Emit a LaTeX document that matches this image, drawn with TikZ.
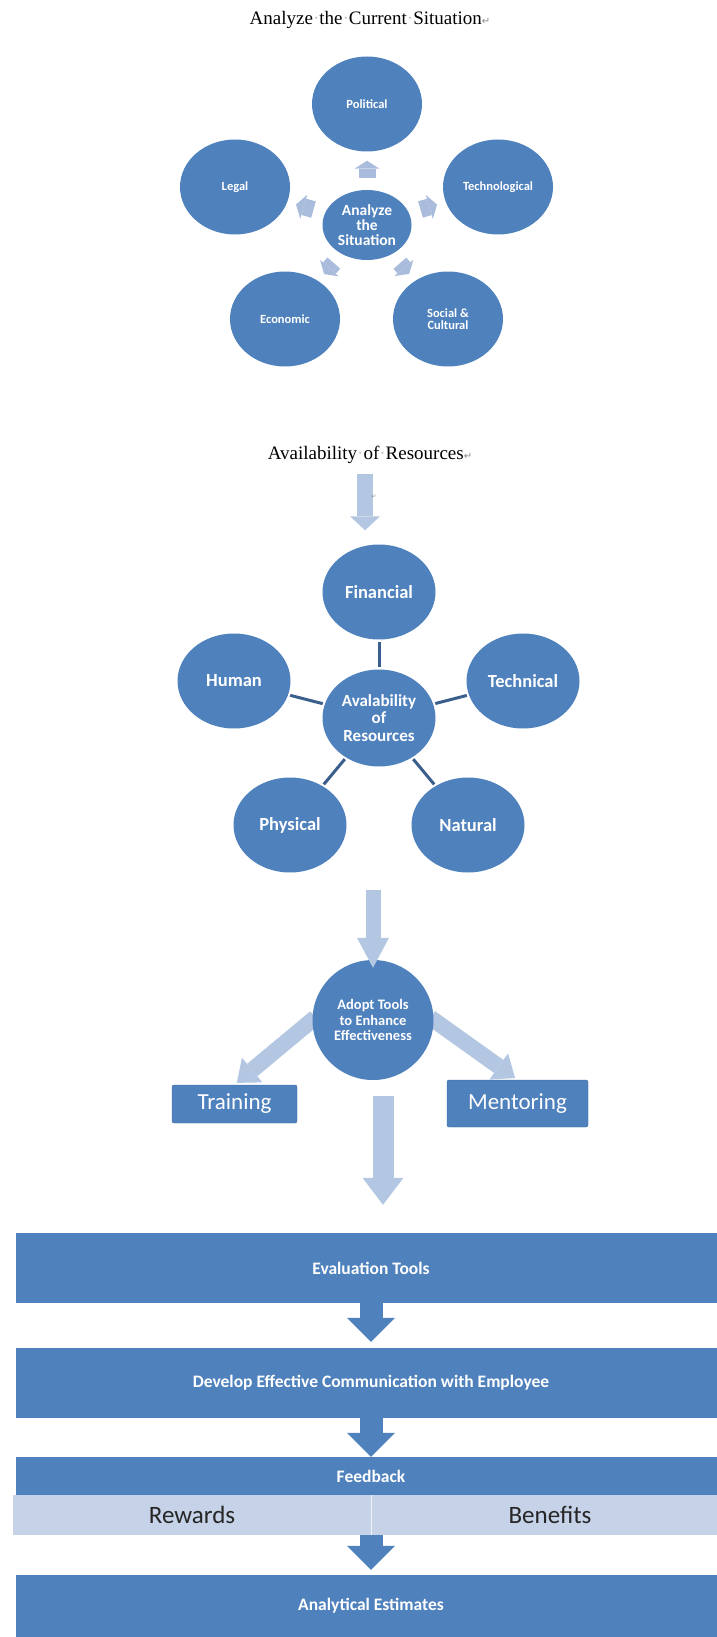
\documentclass[tikz,border=0pt]{standalone}
\usepackage{fontspec}
\setmainfont{Liberation Serif}
\newfontfamily\calfont{Carlito}
\newfontfamily\symfont{DejaVu Sans}
\usetikzlibrary{shapes.geometric,arrows.meta,backgrounds}

\definecolor{circblue}{HTML}{4F81BD}
\definecolor{linkblue}{HTML}{3A5F8D}
\definecolor{paleblue}{HTML}{B3C6E2}
\definecolor{tinyblue}{HTML}{A9BCDB}
\definecolor{barblue}{HTML}{C5D2E7}
\definecolor{markgray}{HTML}{8A8A8A}

\newcommand{\wdot}{\textcolor{markgray!50}{·}}
\newcommand{\pmark}{{\symfont\fontsize{10}{10}\selectfont\textcolor{markgray}{↵}}}

\tikzset{
	heading/.style={inner sep=0pt, font=\fontsize{19}{23}\selectfont},
	bubble/.style={ellipse, fill=circblue, text=white, inner sep=0pt, align=center},
	smallbubble/.style={bubble, minimum width=110pt, minimum height=95pt, font=\calfont\bfseries\fontsize{12.5}{12}\selectfont},
	hub/.style={bubble, minimum width=89pt, minimum height=70pt, font=\calfont\bfseries\fontsize{15.5}{14.7}\selectfont},
	bigbubble/.style={bubble, minimum width=113pt, minimum height=95pt, font=\calfont\bfseries\fontsize{18.5}{20}\selectfont},
	reshub/.style={bubble, minimum width=113pt, minimum height=97pt, font=\calfont\bfseries\fontsize{17}{17.3}\selectfont},
	adoptbubble/.style={bubble, minimum width=121pt, minimum height=120pt, font=\calfont\bfseries\fontsize{14.5}{15.3}\selectfont},
	tag/.style={rectangle, fill=circblue, draw=circblue!80!black, rounded corners=2pt, text=white, inner sep=0pt, font=\calfont\fontsize{23}{26}\selectfont},
	band/.style={rectangle, fill=circblue, text=white, inner sep=0pt, minimum width=710pt, font=\calfont\bfseries\fontsize{17.5}{20}\selectfont},
	bar/.style={rectangle, fill=barblue, text=black!85, inner sep=0pt, minimum height=40pt, font=\calfont\fontsize{25}{28}\selectfont},
	tinyarrow/.style={draw=tinyblue, line width=17pt, -{Triangle[width=25pt,length=8pt,line width=0pt]}, shorten <=12pt, shorten >=9pt},
	link/.style={draw=linkblue, line width=3pt, shorten <=2pt, shorten >=2pt},
	palearrow/.style={draw=paleblue, line width=16pt, -{Triangle[width=32pt,length=20pt,line width=0pt]}},
	bandarrow/.style={draw=circblue, line width=23pt, -{Triangle[width=48pt,length=24pt,line width=0pt]}}
}

\begin{document}
\begin{tikzpicture}[x=1pt,y=-1pt]
	\useasboundingbox (0,0) rectangle (716,1637);

	\node[heading] (sitTitle) at (370,20) {Analyze\wdot the\wdot Current\wdot Situation\pmark};

	\node[hub] (sit) at (367,225) {Analyze\\the\\Situation};
	\node[smallbubble] (political) at (367,104) {Political};
	\node[smallbubble] (legal) at (235,187) {Legal};
	\node[smallbubble] (technological) at (498,187) {Technological};
	\node[smallbubble] (economic) at (285,319) {Economic};
	\node[smallbubble] (social) at (448,319) {Social \&\\Cultural};
	\foreach \n in {political,legal,technological,economic,social}
		\draw[tinyarrow] (sit) -- (\n);

	\node[heading] (resTitle) at (370,455) {Availability\wdot of\wdot Resources\pmark};

	\node[bigbubble] (financial) at (379,592) {Financial};
	\node[bigbubble] (human) at (234,681) {Human};
	\node[bigbubble] (technical) at (523,681) {Technical};
	\node[bigbubble] (physical) at (290,825) {Physical};
	\node[bigbubble] (natural) at (468,825) {Natural};
	\node[reshub] (res) at (379,718) {Avalability\\of\\Resources};
	\foreach \n in {financial,human,technical,physical,natural}
		\draw[link] (res) -- (\n);

	\draw[palearrow, -{Triangle[width=30pt,length=14pt,line width=0pt]}, shorten <=10pt, shorten >=14pt] ([xshift=-5pt]resTitle.south) -- ([xshift=-5pt]resTitle.south |- financial.north);
	\node[font=\symfont\fontsize{6}{6}\selectfont, text=markgray, inner sep=0pt] (resMark) at (374,497) {↵};

	\node[adoptbubble] (adopt) at (373,1020) {Adopt Tools\\to Enhance\\Effectiveness};
	\node[tag, minimum width=125pt, minimum height=38pt] (training) at (234.5,1104) {Training};
	\node[tag, minimum width=141pt, minimum height=47pt] (mentoring) at (517.5,1103.5) {Mentoring};
	\begin{scope}[on background layer]
		\draw[palearrow, shorten <=-4pt, shorten >=3pt] (adopt.west) -- (training.north);
		\draw[palearrow, shorten <=-4pt, shorten >=3pt] (adopt.east) -- (mentoring.north);
	\end{scope}
	\draw[palearrow, line width=15pt, -{Triangle[width=32pt,length=30pt,line width=0pt]}, shorten <=123.5pt, shorten >=-8pt] (adopt.north |- res.south) -- (adopt.north);

	\node[band, minimum height=70pt] (evaluation) at (371,1268) {Evaluation Tools};
	\node[band, minimum height=70pt] (communication) at (371,1383) {Develop Effective Communication with Employee};
	\node[band, minimum height=38pt] (feedback) at (371,1476) {Feedback};
	\node[bar, minimum width=358pt] (rewards) at (192,1515) {Rewards};
	\node[bar, minimum width=358pt] (benefits) at (550,1515) {Benefits};
	\draw[white!75!barblue, line width=1pt] (rewards.north east) -- (rewards.south east);
	\node[band, minimum height=62pt] (analytical) at (371,1606) {Analytical Estimates};

	\draw[palearrow, line width=21pt, -{Triangle[width=41pt,length=27pt,line width=0pt]}, shorten <=16pt, shorten >=28pt] ([xshift=10pt]adopt.south) -- ([xshift=10pt]adopt.south |- evaluation.north);

	\draw[bandarrow, shorten >=6pt] (evaluation) -- (communication);
	\draw[bandarrow] (communication) -- (feedback);
	\draw[bandarrow, shorten <=40pt, shorten >=5pt] (feedback) -- (analytical);
\end{tikzpicture}
\end{document}
